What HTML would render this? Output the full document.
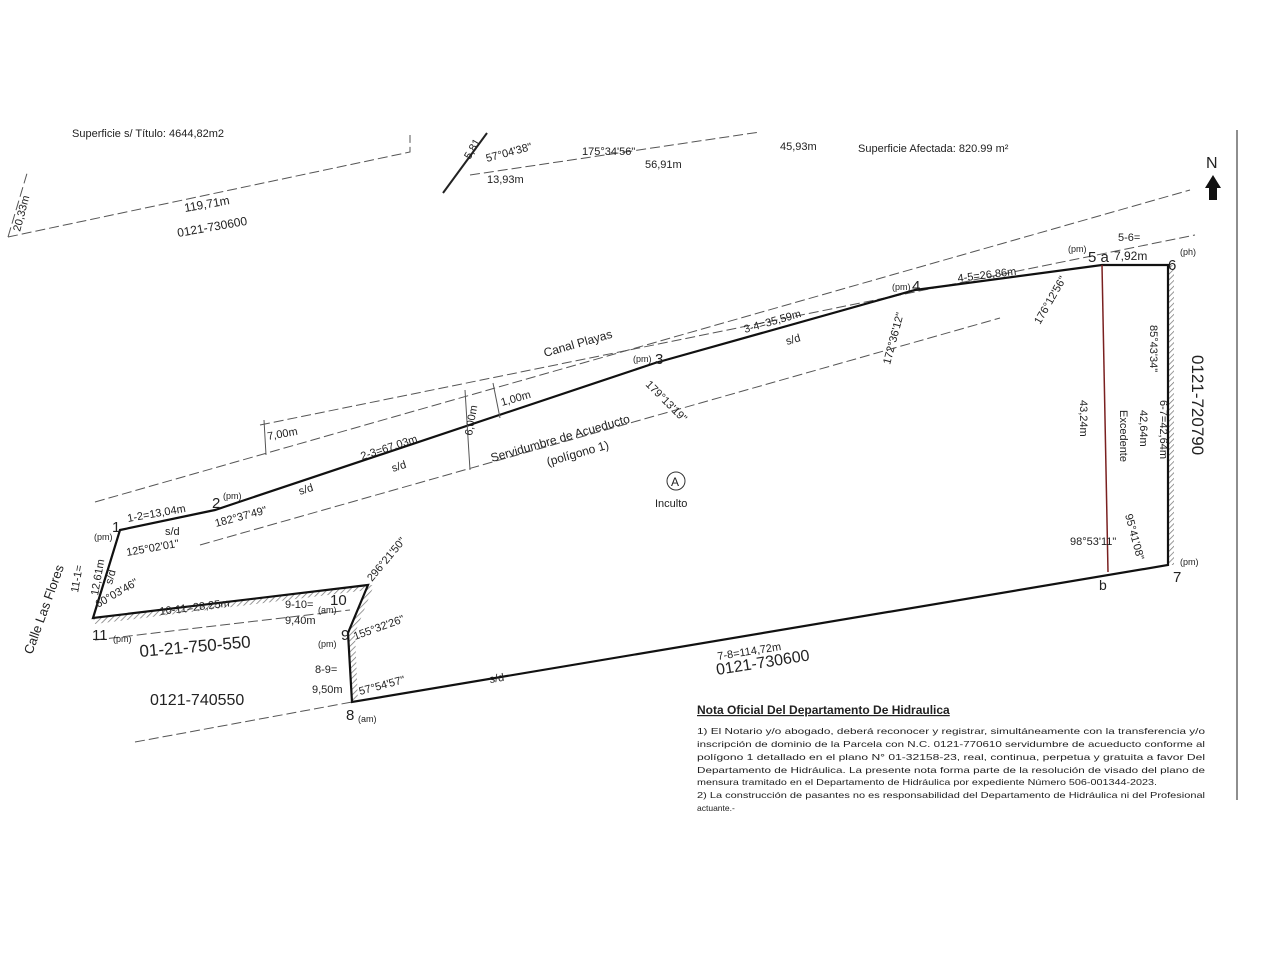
<!DOCTYPE html>
<html><head><meta charset="utf-8"><style>
html,body{margin:0;padding:0;background:#fff;}
svg{display:block;font-family:"Liberation Sans",sans-serif;}
text{fill:#222;}
</style></head><body>
<svg width="1280" height="960" viewBox="0 0 1280 960" xmlns="http://www.w3.org/2000/svg">
<defs>
<pattern id="h" width="4" height="4" patternUnits="userSpaceOnUse" patternTransform="rotate(45)">
<line x1="0" y1="0" x2="0" y2="4" stroke="#777" stroke-width="1.5"/></pattern>
</defs>
<rect width="1280" height="960" fill="#fff"/>
<text x="72" y="137" font-size="11" fill="#555">Superficie s/ Título: 4644,82m2</text>
<line x1="1237" y1="130" x2="1237" y2="800" stroke="#444" stroke-width="1.2"/>
<g stroke="#555" stroke-width="1" fill="none" stroke-dasharray="10,4">
<polyline points="8,237 410,152 410,135"/>
<line x1="8" y1="237" x2="28" y2="170"/>
<line x1="95" y1="502" x2="1190" y2="190"/>
<line x1="260" y1="425" x2="1195" y2="235"/>
<line x1="200" y1="545" x2="1000" y2="318"/>
<line x1="135" y1="742" x2="352" y2="702"/>
<line x1="95" y1="640" x2="350" y2="610"/>
<line x1="470" y1="175" x2="760" y2="132"/>
</g>
<line x1="443" y1="193" x2="487" y2="133" stroke="#222" stroke-width="2"/>
<rect x="1168" y="265" width="6" height="300" fill="url(#h)"/>
<polygon points="93,618 368,585 368,590 95,624" fill="url(#h)"/>
<polygon points="352,702 348,633 368,585 374,585 355,633 358,702" fill="url(#h)"/>
<polygon points="120,530 215,510 655,363 915,290 1102,265 1168,265 1168,565 352,702 348,633 368,585 93,618" fill="none" stroke="#111" stroke-width="2.2"/>
<line x1="1102" y1="265" x2="1108" y2="572" stroke="#7a2020" stroke-width="1.5"/>
<line x1="465" y1="390" x2="470" y2="470" stroke="#555" stroke-width="1"/>
<line x1="493" y1="383" x2="500" y2="418" stroke="#555" stroke-width="1"/>
<line x1="264" y1="420" x2="266" y2="455" stroke="#555" stroke-width="1"/>
<text x="1206" y="168" font-size="16">N</text>
<polygon points="1213,175 1205,188 1209,188 1209,200 1217,200 1217,188 1221,188" fill="#111"/>
<text x="470" y="160" font-size="11" transform="rotate(-60 470 160)">5,81</text>
<text x="487" y="162" font-size="11" transform="rotate(-15 487 162)">57°04'38"</text>
<text x="487" y="183" font-size="11">13,93m</text>
<text x="582" y="155" font-size="11">175°34'56"</text>
<text x="645" y="168" font-size="11">56,91m</text>
<text x="780" y="150" font-size="11">45,93m</text>
<text x="858" y="152" font-size="11">Superficie Afectada: 820.99 m²</text>
<text x="185" y="212" font-size="12" transform="rotate(-10 185 212)">119,71m</text>
<text x="178" y="237" font-size="12" transform="rotate(-10 178 237)">0121-730600</text>
<text x="20" y="232" font-size="11" transform="rotate(-75 20 232)">20,33m</text>
<text x="545" y="357" font-size="12" transform="rotate(-16 545 357)">Canal Playas</text>
<text x="268" y="440" font-size="11" transform="rotate(-10 268 440)">7,00m</text>
<text x="502" y="406" font-size="11" transform="rotate(-16 502 406)">1,00m</text>
<text x="472" y="436" font-size="11" transform="rotate(-80 472 436)">6,00m</text>
<text x="492" y="462" font-size="12" transform="rotate(-16 492 462)">Servidumbre de Acueducto</text>
<text x="548" y="466" font-size="12" transform="rotate(-16 548 466)">(polígono 1)</text>
<circle cx="676" cy="481" r="9" fill="none" stroke="#333"/>
<text x="671" y="486" font-size="12">A</text>
<text x="655" y="507" font-size="11">Inculto</text>
<text x="112" y="532" font-size="15">1</text>
<text x="94" y="540" font-size="9">(pm)</text>
<text x="212" y="508" font-size="15">2</text><text x="223" y="499" font-size="9">(pm)</text>
<text x="655" y="364" font-size="15">3</text><text x="633" y="362" font-size="9">(pm)</text>
<text x="912" y="291" font-size="15">4</text><text x="892" y="290" font-size="9">(pm)</text>
<text x="1088" y="262" font-size="15">5 a</text><text x="1068" y="252" font-size="9">(pm)</text>
<text x="1168" y="270" font-size="15">6</text><text x="1180" y="255" font-size="9">(ph)</text>
<text x="1173" y="582" font-size="15">7</text><text x="1180" y="565" font-size="9">(pm)</text>
<text x="1099" y="590" font-size="14">b</text>
<text x="346" y="720" font-size="15">8</text><text x="358" y="722" font-size="9">(am)</text>
<text x="341" y="640" font-size="15">9</text><text x="318" y="647" font-size="9">(pm)</text>
<text x="330" y="605" font-size="15">10</text>
<text x="92" y="640" font-size="15">11</text><text x="113" y="642" font-size="9">(pm)</text>
<text x="128" y="522" font-size="11" transform="rotate(-10 128 522)">1-2=13,04m</text>
<text x="165" y="535" font-size="11">s/d</text>
<text x="300" y="495" font-size="11" transform="rotate(-18 300 495)">s/d</text>
<text x="362" y="460" font-size="11" transform="rotate(-18 362 460)">2-3=67,03m</text>
<text x="393" y="472" font-size="11" transform="rotate(-18 393 472)">s/d</text>
<text x="745" y="333" font-size="11" transform="rotate(-16 745 333)">3-4=35,59m</text>
<text x="787" y="345" font-size="11" transform="rotate(-16 787 345)">s/d</text>
<text x="958" y="282" font-size="11" transform="rotate(-7 958 282)">4-5=26,86m</text>
<text x="1118" y="241" font-size="11">5-6=</text>
<text x="1114" y="260" font-size="12">7,92m</text>
<text x="216" y="527" font-size="11" transform="rotate(-15 216 527)">182°37'49"</text>
<text x="127" y="556" font-size="11" transform="rotate(-10 127 556)">125°02'01"</text>
<text x="645" y="385" font-size="11" transform="rotate(45 645 385)">179°13'19"</text>
<text x="890" y="365" font-size="11" transform="rotate(-75 890 365)">172°36'12"</text>
<text x="1040" y="325" font-size="11" transform="rotate(-60 1040 325)">176°12'56"</text>
<text x="1150" y="325" font-size="11" transform="rotate(90 1150 325)">85°43'34"</text>
<text x="1080" y="400" font-size="11" transform="rotate(90 1080 400)">43,24m</text>
<text x="1120" y="410" font-size="11" transform="rotate(90 1120 410)">Excedente</text>
<text x="1140" y="410" font-size="11" transform="rotate(90 1140 410)">42,64m</text>
<text x="1160" y="400" font-size="11" transform="rotate(90 1160 400)">6-7=42,64m</text>
<text x="1192" y="355" font-size="17" transform="rotate(90 1192 355)">0121-720790</text>
<text x="1125" y="515" font-size="11" transform="rotate(75 1125 515)">95°41'08"</text>
<text x="1070" y="545" font-size="11">98°53'11"</text>
<text x="718" y="660" font-size="11" transform="rotate(-9 718 660)">7-8=114,72m</text>
<text x="717" y="675" font-size="16" transform="rotate(-9 717 675)">0121-730600</text>
<text x="490" y="683" font-size="11" transform="rotate(-9 490 683)">s/d</text>
<text x="112" y="585" font-size="11" transform="rotate(-75 112 585)">s/d</text>
<text x="78" y="593" font-size="11" transform="rotate(-80 78 593)">11-1=</text>
<text x="98" y="596" font-size="11" transform="rotate(-80 98 596)">12,61m</text>
<text x="98" y="608" font-size="11" transform="rotate(-30 98 608)">60°03'46"</text>
<text x="32" y="655" font-size="13" transform="rotate(-70 32 655)">Calle Las Flores</text>
<text x="160" y="615" font-size="11" transform="rotate(-7 160 615)">10-11=28,25m</text>
<text x="285" y="608" font-size="11">9-10=</text><text x="318" y="613" font-size="9">(am)</text>
<text x="285" y="624" font-size="11">9,40m</text>
<text x="372" y="582" font-size="11" transform="rotate(-50 372 582)">296°21'50"</text>
<text x="355" y="640" font-size="11" transform="rotate(-20 355 640)">155°32'26"</text>
<text x="140" y="657" font-size="17" transform="rotate(-5 140 657)">01-21-750-550</text>
<text x="150" y="705" font-size="16">0121-740550</text>
<text x="315" y="673" font-size="11">8-9=</text>
<text x="312" y="693" font-size="11">9,50m</text>
<text x="360" y="695" font-size="11" transform="rotate(-15 360 695)">57°54'57"</text>
<text x="697" y="714" font-size="12" font-weight="bold" text-decoration="underline">Nota Oficial Del Departamento De Hidraulica</text>
<g font-size="8.5" fill="#444" lengthAdjust="spacingAndGlyphs">
<text x="697" y="734" textLength="508" lengthAdjust="spacingAndGlyphs">1) El Notario y/o abogado, deberá reconocer y registrar, simultáneamente con la transferencia y/o</text>
<text x="697" y="747" textLength="508" lengthAdjust="spacingAndGlyphs">inscripción de dominio de la Parcela con N.C. 0121-770610 servidumbre de acueducto conforme al</text>
<text x="697" y="760" textLength="508" lengthAdjust="spacingAndGlyphs">polígono 1 detallado en el plano N° 01-32158-23, real, continua, perpetua y gratuita a favor Del</text>
<text x="697" y="773" textLength="508" lengthAdjust="spacingAndGlyphs">Departamento de Hidráulica. La presente nota forma parte de la resolución de visado del plano de</text>
<text x="697" y="785" textLength="460" lengthAdjust="spacingAndGlyphs">mensura tramitado en el Departamento de Hidráulica por expediente Número 506-001344-2023.</text>
<text x="697" y="798" textLength="508" lengthAdjust="spacingAndGlyphs">2) La construcción de pasantes no es responsabilidad del Departamento de Hidráulica ni del Profesional</text>
<text x="697" y="811">actuante.-</text>
</g>
</svg>
</body></html>
